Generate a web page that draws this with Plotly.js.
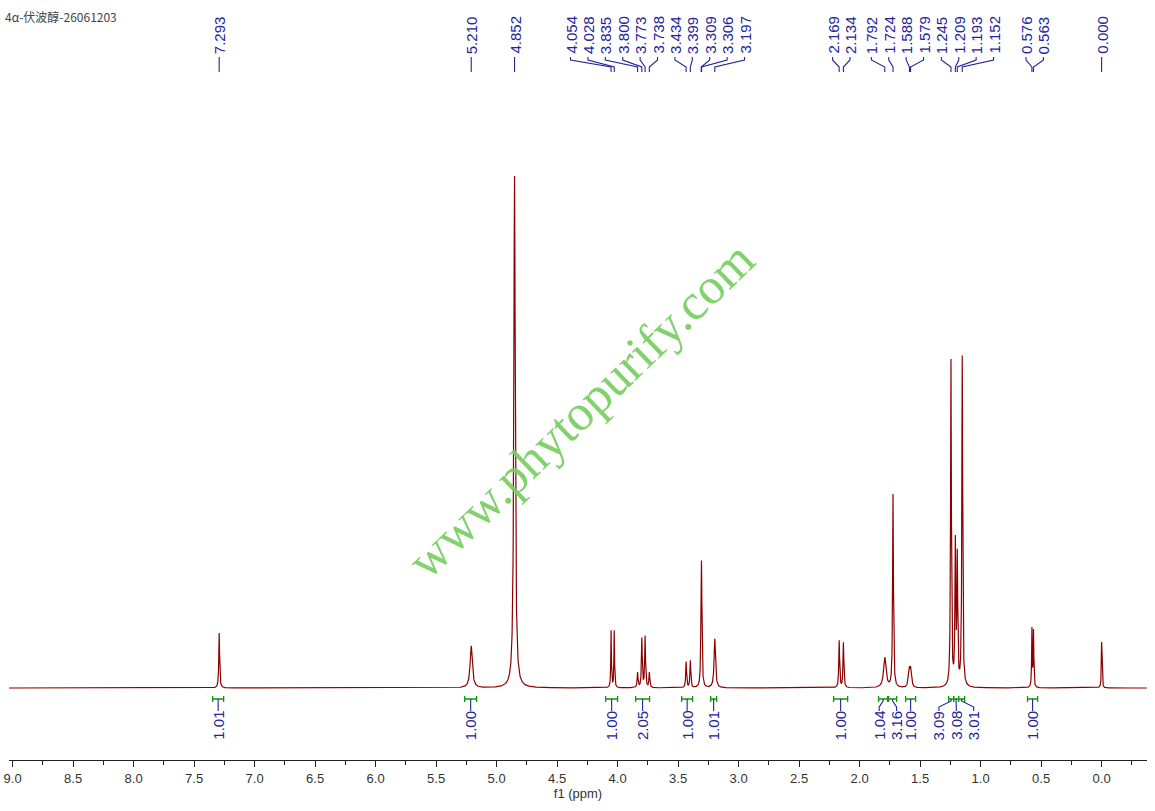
<!DOCTYPE html>
<html>
<head>
<meta charset="utf-8">
<script src="https://cdn.plot.ly/plotly-3.0.1.min.js"></script>
<style>html,body{margin:0;padding:0;background:#fff;}#chart{width:1155px;height:811px;}</style>
</head>
<body>
<div id="chart"></div>
<script>
// ---------- data ----------
const sampleName = "4α-伏波醇-26061203";
const watermark = "www.phytopurify.com";
const xTitle = "f1 (ppm)";

// spectrum lines: chemical shift (ppm), peak height (arb.), half width at half height (ppm)
const linePpm    = [7.293, 5.210, 4.852, 4.054, 4.028, 3.835, 3.800, 3.773, 3.738, 3.434, 3.399, 3.309, 3.306, 3.197, 2.169, 2.134, 1.792, 1.724, 1.598, 1.588, 1.579, 1.570, 1.245, 1.209, 1.193, 1.152, 0.576, 0.563, 0.000];
const lineHeight = [55,    42,    512,   57,    57,    15,    49,    51,    15,    26,    27,    73,    73,    49,    47,    45,    30,    193,   10,    15,    15,    9,     326,   140,   126,   330,   58,    56,    46];
const lineHwhm   = [0.004, 0.011, 0.007, 0.003, 0.003, 0.004, 0.004, 0.004, 0.004, 0.004, 0.004, 0.004, 0.004, 0.007, 0.004, 0.004, 0.012, 0.004, 0.005, 0.005, 0.005, 0.005, 0.004, 0.004, 0.004, 0.004, 0.003, 0.003, 0.003];

// peak picking labels, in their label groups
const peakLabelGroups = [
  [7.293], [5.210], [4.852],
  [4.054, 4.028, 3.835, 3.800, 3.773, 3.738, 3.434, 3.399, 3.309, 3.306, 3.197],
  [2.169, 2.134],
  [1.792, 1.724, 1.588, 1.579],
  [1.245, 1.209, 1.193, 1.152],
  [0.576, 0.563],
  [0.000]
];

// integrals
const intFrom  = [7.347, 5.264, 4.099, 3.851, 3.471, 3.231, 2.215, 1.843, 1.760, 1.620, 1.264, 1.223, 1.182, 0.612];
const intTo    = [7.256, 5.165, 4.000, 3.736, 3.380, 3.182, 2.099, 1.769, 1.694, 1.537, 1.223, 1.182, 1.132, 0.529];
const intValue = [1.01,  1.00,  1.00,  2.05,  1.00,  1.01,  1.00,  1.04,  3.16,  1.00,  3.09,  3.08,  3.01,  1.00];
const intGroup = [0, 1, 2, 3, 4, 5, 6, 7, 7, 8, 9, 9, 9, 10];

// ---------- layout constants ----------
const W = 1155, H = 811;
const plotL = 9, plotR = 1147, plotTop = 100, plotBottom = 760;
const plotW = plotR - plotL, plotH = plotBottom - plotTop;
const xRange = [9.03, -0.375];
const yRange = [-72, 588];
const labelSpacingPx = 17.4;
const peakGroupShiftPx = [0, 0, 0, -5.5, 0, -2, 11, 2, 0];
const blue = '#23239a', green = '#0a9a0a', red = '#8b0000';

function ppmToPx(p) { return plotL + (p - xRange[0]) / (xRange[1] - xRange[0]) * plotW; }
function pxToPpm(px) { return xRange[0] + (px - plotL) / plotW * (xRange[1] - xRange[0]); }
function yP(py) { return (plotBottom - py) / plotH; }

// ---------- spectrum trace from the line list ----------
function intensityAt(x) {
  let y = 0;
  for (let i = 0; i < linePpm.length; i++) {
    const d = x - linePpm[i], g = lineHwhm[i];
    y += lineHeight[i] * g * g / (g * g + d * d);
  }
  return y;
}
const specX = [];
const step = 0.001;
for (let x = xRange[0]; x >= xRange[1]; x -= step) specX.push(x);
linePpm.forEach(p => specX.push(p));
specX.sort((a, b) => b - a);
const specY = specX.map(intensityAt);

const shapes = [], annotations = [];

// ---------- peak labels ----------
const pkTextCenterY = 35, pkL0 = 57, pkL1 = 60, pkL2 = 67, pkL3 = 72;
peakLabelGroups.forEach((grp, gi) => {
  const pxs = grp.map(ppmToPx);
  const mean = pxs.reduce((a, b) => a + b, 0) / pxs.length + peakGroupShiftPx[gi];
  grp.forEach((p, i) => {
    const lx = mean + (i - (grp.length - 1) / 2) * labelSpacingPx;
    const lppm = pxToPpm(lx);
    annotations.push({
      x: lppm, xref: 'x', y: yP(pkTextCenterY), yref: 'paper',
      text: p.toFixed(3), textangle: -90, showarrow: false,
      xanchor: 'center', yanchor: 'middle',
      font: { family: 'Liberation Sans, Arial, sans-serif', size: 15, color: blue }
    });
    let path;
    if (grp.length === 1) {
      path = `M ${p} ${yP(pkL0)} L ${p} ${yP(pkL3)}`;
    } else {
      path = `M ${lppm} ${yP(pkL0)} L ${lppm} ${yP(pkL1)} L ${p} ${yP(pkL2)} L ${p} ${yP(pkL3)}`;
    }
    shapes.push({ type: 'path', xref: 'x', yref: 'paper', path: path, line: { color: blue, width: 1.1 } });
  });
});

// ---------- integrals ----------
const brY = 699, capH = 3, intTextCenterY = 725.5, conTop = 711;
const nGroups = Math.max(...intGroup) + 1;
for (let g = 0; g < nGroups; g++) {
  const idx = intGroup.map((v, i) => v === g ? i : -1).filter(i => i >= 0);
  const centers = idx.map(i => ppmToPx((intFrom[i] + intTo[i]) / 2));
  const mean = centers.reduce((a, b) => a + b, 0) / centers.length;
  idx.forEach((i, k) => {
    const a = intFrom[i], b = intTo[i], c = (a + b) / 2;
    shapes.push({ type: 'path', xref: 'x', yref: 'paper',
      path: `M ${a} ${yP(brY - capH)} L ${a} ${yP(brY + capH)} M ${a} ${yP(brY)} L ${b} ${yP(brY)} M ${b} ${yP(brY - capH)} L ${b} ${yP(brY + capH)}`,
      line: { color: green, width: 1.3 } });
    const lx = idx.length === 1 ? ppmToPx(c) : mean + (k - (idx.length - 1) / 2) * labelSpacingPx;
    const lppm = pxToPpm(lx);
    let path;
    if (idx.length === 1) path = `M ${c} ${yP(brY)} L ${c} ${yP(conTop)}`;
    else path = `M ${c} ${yP(brY)} L ${c} ${yP(brY + 2)} L ${lppm} ${yP(conTop - 4)} L ${lppm} ${yP(conTop)}`;
    shapes.push({ type: 'path', xref: 'x', yref: 'paper', path: path, line: { color: blue, width: 1.1 } });
    annotations.push({
      x: lppm, xref: 'x', y: yP(intTextCenterY), yref: 'paper',
      text: intValue[i].toFixed(2), textangle: -90, showarrow: false,
      xanchor: 'center', yanchor: 'middle',
      font: { family: 'Liberation Sans, Arial, sans-serif', size: 15, color: blue }
    });
  });
}

// ---------- watermark ----------
annotations.push({
  x: (581 - plotL) / plotW, xref: 'paper', y: yP(410), yref: 'paper',
  text: watermark, textangle: -44, showarrow: false, xanchor: 'center', yanchor: 'middle',
  font: { family: 'Liberation Serif, Times New Roman, serif', size: 51, color: 'rgba(118,206,96,0.92)' }
});

const trace = {
  x: specX, y: specY, type: 'scatter', mode: 'lines',
  line: { color: red, width: 1.2 }, hoverinfo: 'skip', showlegend: false
};

const layout = {
  width: W, height: H,
  margin: { l: plotL, r: W - plotR, t: plotTop, b: H - plotBottom, pad: 0 },
  paper_bgcolor: '#fff', plot_bgcolor: '#fff',
  title: { text: sampleName, x: 5 / W, xanchor: 'left', xref: 'container', y: 1 - 18 / H, yref: 'container', yanchor: 'middle',
    font: { family: 'Noto Sans CJK SC, sans-serif', size: 12, color: '#444' } },
  xaxis: {
    range: xRange, showgrid: false, zeroline: false,
    showline: true, linecolor: '#222', linewidth: 1.3,
    ticks: 'outside', ticklen: 6, tickwidth: 1, tickcolor: '#222',
    dtick: 0.5, tick0: 0, tickformat: '.1f',
    minor: { dtick: 0.25, ticks: 'outside', ticklen: 3.5, tickcolor: '#222', tickwidth: 1, showgrid: false },
    tickfont: { family: 'Liberation Sans, Arial, sans-serif', size: 13, color: '#333' },
    title: { text: xTitle, standoff: 2, font: { family: 'Liberation Sans, Arial, sans-serif', size: 13, color: '#333' } },
    automargin: false, fixedrange: true
  },
  yaxis: { range: yRange, visible: false, showgrid: false, zeroline: false, fixedrange: true },
  shapes: shapes, annotations: annotations, showlegend: false
};

Plotly.newPlot('chart', [trace], layout, { staticPlot: true, displayModeBar: false });
</script>
</body>
</html>
